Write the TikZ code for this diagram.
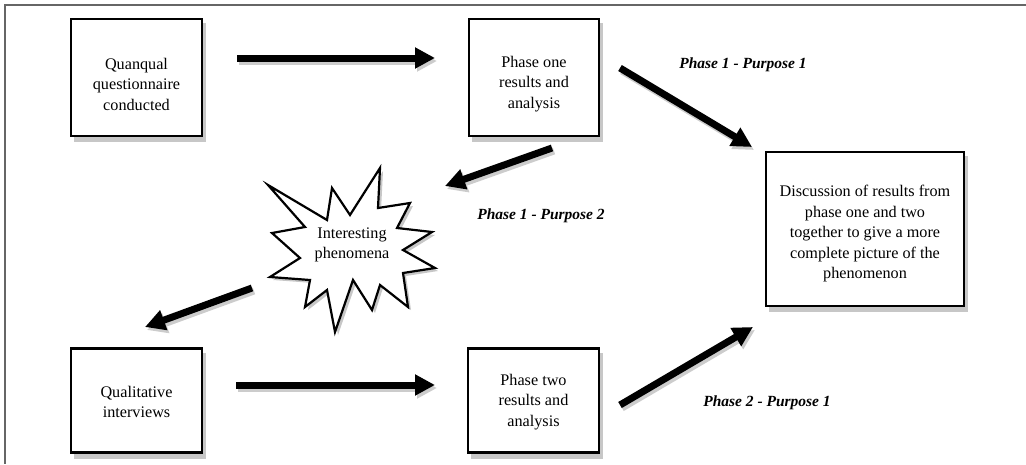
\documentclass[tikz,border=0pt]{standalone}
\usepackage{fontspec}
\setmainfont{Liberation Serif}
\usetikzlibrary{arrows.meta}
\tikzset{
  boxshape/.style={draw=black, line width=2.8pt, fill=white, inner sep=0pt, align=center},
  boxtext/.style={align=center, font=\fontsize{16.2}{20.5}\selectfont},
  boxshadow/.style={fill=black!22, draw=none},
  bigarrow/.style={line width=7pt, -{Triangle[length=20pt,width=20pt]}},
  arrowshadow/.style={bigarrow, draw=black!20, color=black!20},
  purposelabel/.style={font=\fontsize{15.5}{18}\selectfont\bfseries\itshape, inner sep=0pt},
  framestyle/.style={draw=black!60, line width=1.5pt}
}
\begin{document}
\begin{tikzpicture}[x=1pt,y=-1pt]
\useasboundingbox (0,0) rectangle (1026,464);
% frame
\draw[framestyle] (1026,5) -- (5,5) -- (5,464);
% box shadows
\fill[boxshadow] (74,23) rectangle (206,142);
\fill[boxshadow] (472,23) rectangle (603,142);
\fill[boxshadow] (769,156) rectangle (968,312);
\fill[boxshadow] (74,353) rectangle (206,459);
\fill[boxshadow] (471,353) rectangle (603,459);
% boxes
\node[boxshape, minimum width=131pt, minimum height=117pt] (q1) at (136.5,77.5) {};
\node[boxtext] (q1t) at (136.5,84) {Quanqual\\questionnaire\\conducted};
\node[boxshape, minimum width=130pt, minimum height=117pt] (p1) at (534,77.5) {};
\node[boxtext] (p1t) at (534,84) {Phase one\\results and\\analysis};
\node[boxshape, minimum width=198pt, minimum height=154pt] (disc) at (865,229) {};
\node[boxtext] (disct) at (865,234) {Discussion of results from\\phase one and two\\together to give a more\\complete picture of the\\phenomenon};
\node[boxshape, minimum width=131pt, minimum height=104pt] (qual) at (136.5,400.5) {};
\node[boxtext] (qualt) at (136.5,402) {Qualitative\\interviews};
\node[boxshape, minimum width=131pt, minimum height=104pt] (p2) at (533.5,400.5) {};
\node[boxtext] (p2t) at (533.5,402) {Phase two\\results and\\analysis};
% star
\fill[black!22, shift={(3,3)}] (268,185) -- (327,220) -- (332,188) -- (350,215) -- (380,168) -- (378,208) -- (410,203) -- (397,228) -- (432,232) -- (403,250) -- (435,268) -- (403,273) -- (408,307) -- (380,285) -- (372,310) -- (353,280) -- (335,332) -- (327,290) -- (305,307) -- (310,280) -- (270,277) -- (300,258) -- (272,233) -- (305,227) -- cycle;
\draw[black, line width=2.2pt, fill=white, line join=miter] (268,185) -- (327,220) -- (332,188) -- (350,215) -- (380,168) -- (378,208) -- (410,203) -- (397,228) -- (432,232) -- (403,250) -- (435,268) -- (403,273) -- (408,307) -- (380,285) -- (372,310) -- (353,280) -- (335,332) -- (327,290) -- (305,307) -- (310,280) -- (270,277) -- (300,258) -- (272,233) -- (305,227) -- cycle;
\node[boxtext] (star) at (352,245) {Interesting\\phenomena};
% arrow end points
\coordinate (a1s) at (237,58);  \coordinate (a1e) at (435,58);
\coordinate (a2s) at (620,68);  \coordinate (a2e) at (752,147);
\coordinate (a3s) at (552,148); \coordinate (a3e) at (445,186);
\coordinate (a4s) at (252,288); \coordinate (a4e) at (145,327);
\coordinate (a5s) at (236,385); \coordinate (a5e) at (435,385);
\coordinate (a6s) at (620,405); \coordinate (a6e) at (753,327);
% arrow shadows
\foreach \s/\e in {a1s/a1e,a2s/a2e,a3s/a3e,a4s/a4e,a5s/a5e,a6s/a6e}{
  \draw[arrowshadow] ([shift={(2,3)}]\s) -- ([shift={(2,3)}]\e);
}
% arrows
\draw[bigarrow] (a1s) -- (a1e);
\draw[bigarrow] (a2s) -- (a2e);
\draw[bigarrow] (a3s) -- (a3e);
\draw[bigarrow] (a4s) -- (a4e);
\draw[bigarrow] (a5s) -- (a5e);
\draw[bigarrow] (a6s) -- (a6e);
% labels
\node[purposelabel] (l1) at (743,65) {Phase 1 - Purpose 1};
\node[purposelabel] (l2) at (541,216) {Phase 1 - Purpose 2};
\node[purposelabel] (l3) at (767,403) {Phase 2 - Purpose 1};
\end{tikzpicture}
\end{document}
